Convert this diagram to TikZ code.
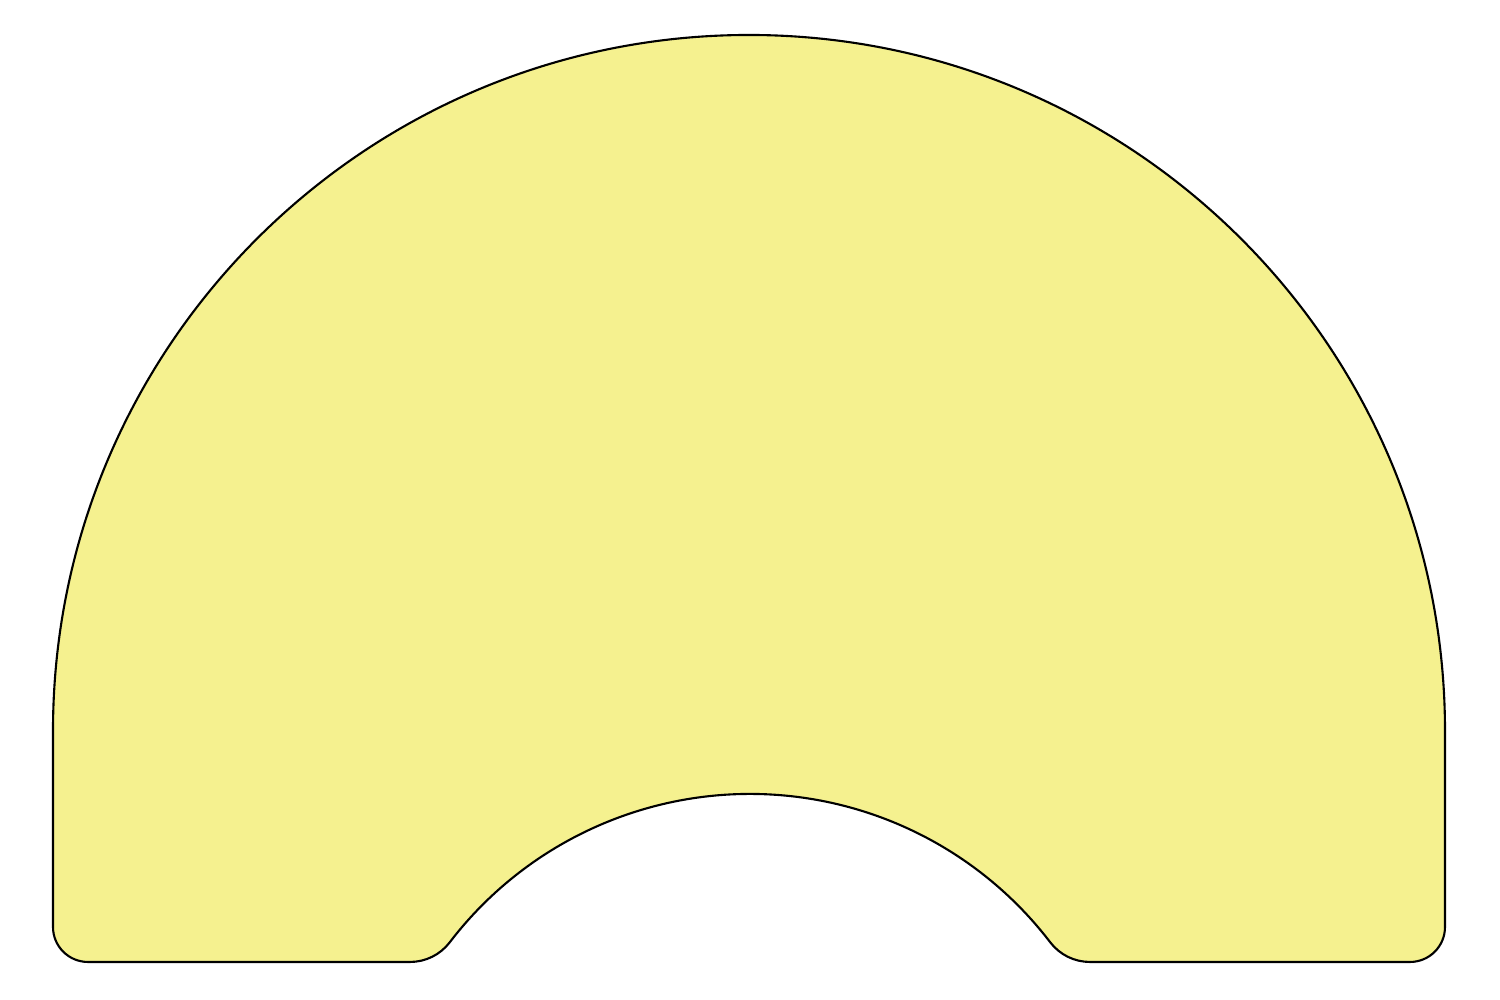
\documentclass[tikz,border=0pt]{standalone}
\usepackage{tikz}
\usetikzlibrary{calc}
\definecolor{tableyellow}{RGB}{245,241,143}
\begin{document}
\begin{tikzpicture}[x={(1cm,0cm)}, y={(0cm,1cm)}, top/.style={fill=tableyellow,draw=black,line width=.6pt,line join=round}]
\useasboundingbox (0,0) rectangle (15,10);
%table top, notch at the front
\coordinate (A) at (4.10,.38);
\draw[top](A) arc(-90:-37.4:.5) arc(142.6:37.4:3.78) arc(217.4:270:.5)--(14.10,.38) arc(-90:0:.35)--(14.45,2.69) arc(0:180:6.96)--(.53,.73) arc(180:270:.35)--cycle;
\end{tikzpicture}
\end{document}
